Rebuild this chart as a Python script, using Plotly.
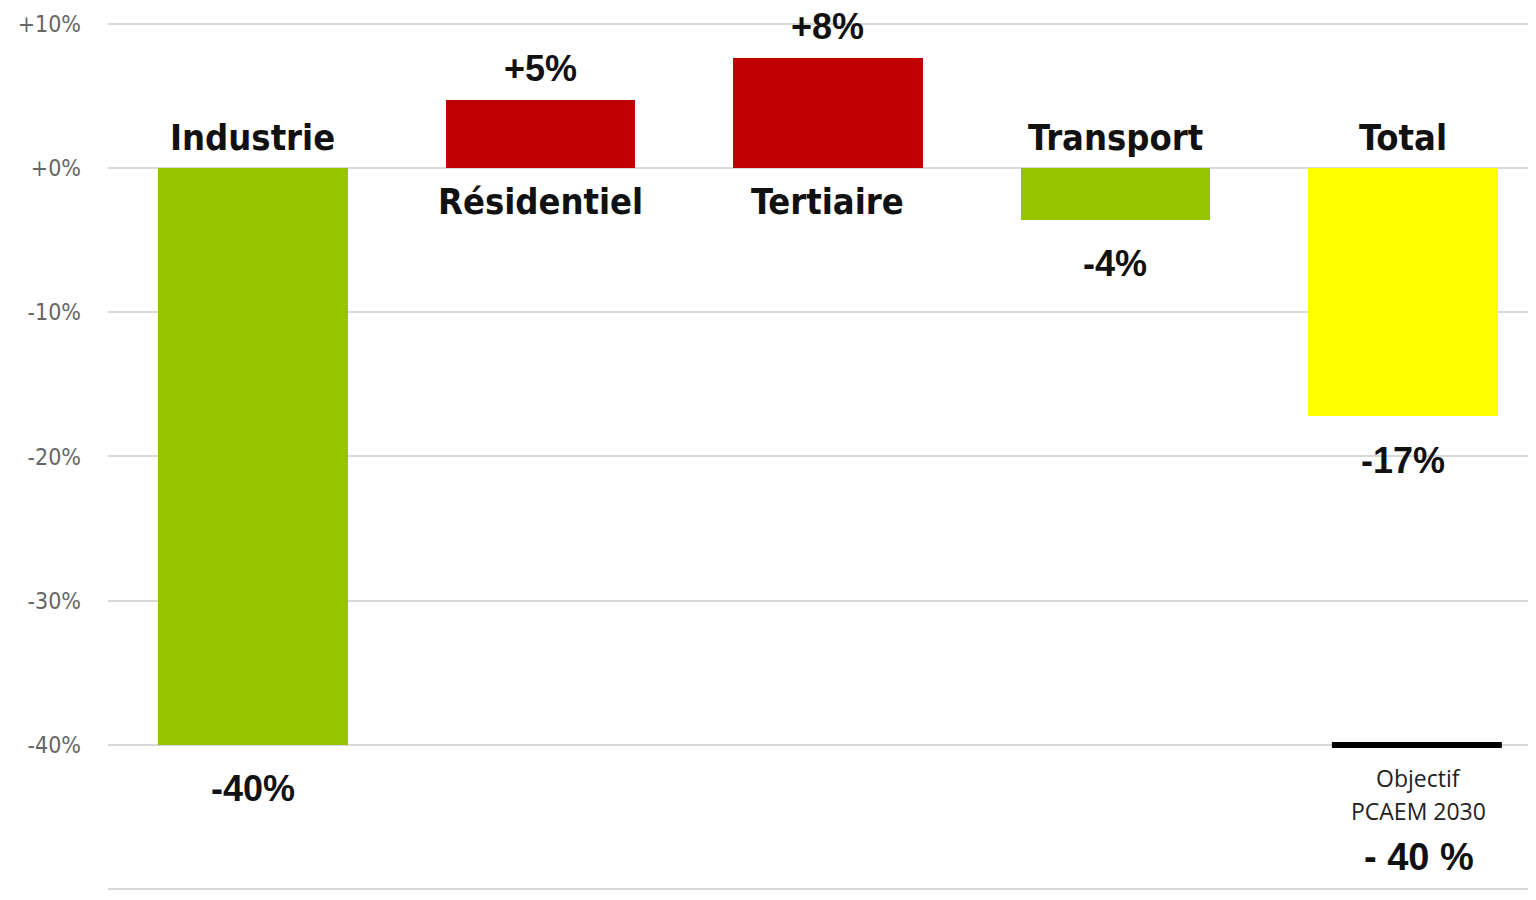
import plotly.graph_objects as go

categories = ["Industrie", "Résidentiel", "Tertiaire", "Transport", "Total"]
values = [-40, 4.7, 7.6, -3.6, -17.2]
value_labels = ["-40%", "+5%", "+8%", "-4%", "-17%"]
colors = ["#96C400", "#C00000", "#C00000", "#96C400", "#FFFF00"]
tick_vals = [10, 0, -10, -20, -30, -40, -50]
tick_text = ["+10%", "+0%", "-10%", "-20%", "-30%", "-40%", "-50%"]
objectif_value = -40
objectif_line1 = "Objectif"
objectif_line2 = "PCAEM 2030"
objectif_value_label = "- 40 %"

xs = list(range(len(categories)))

fig = go.Figure()
fig.add_trace(go.Bar(
    x=xs, y=values, marker=dict(color=colors, line=dict(width=0)),
    width=0.66, showlegend=False, hoverinfo="skip",
))

# Objective line on Total
fig.add_trace(go.Scatter(
    x=[xs[-1] - 0.247, xs[-1] + 0.344], y=[objectif_value, objectif_value],
    mode="lines", line=dict(color="black", width=6), showlegend=False, hoverinfo="skip",
))

cat_font = dict(family="DejaVu Sans Condensed", size=36, color="#111111")
val_font = dict(family="Liberation Sans", size=36, color="#111111")

for x, v, c, lab in zip(xs, values, categories, value_labels):
    if v < 0:
        fig.add_annotation(x=x, y=0, text="<b>%s</b>" % c, showarrow=False,
                           yanchor="middle", yshift=31, font=cat_font)
        fig.add_annotation(x=x, y=v, text="<b>%s</b>" % lab, showarrow=False,
                           yanchor="middle", yshift=-44, font=val_font)
    else:
        fig.add_annotation(x=x, y=0, text="<b>%s</b>" % c, showarrow=False,
                           yanchor="middle", yshift=-33, font=cat_font)
        fig.add_annotation(x=x, y=v, text="<b>%s</b>" % lab, showarrow=False,
                           yanchor="middle", yshift=32, font=val_font, borderpad=0)

obj_x = xs[-1] + 0.055
fig.add_annotation(x=obj_x, y=objectif_value, text=objectif_line1, showarrow=False,
                   yanchor="middle", yshift=-33, font=dict(family="Open Sans", size=23, color="#222222"))
fig.add_annotation(x=obj_x, y=objectif_value, text=objectif_line2, showarrow=False,
                   yanchor="middle", yshift=-66, font=dict(family="Open Sans", size=23, color="#222222"))
fig.add_annotation(x=obj_x, y=objectif_value, text="<b>%s</b>" % objectif_value_label,
                   showarrow=False, yanchor="middle", yshift=-112,
                   font=dict(family="Liberation Sans", size=38, color="#111111"))

fig.update_layout(
    width=1520, height=884,
    margin=dict(l=100, r=0, t=0, b=0),
    paper_bgcolor="white", plot_bgcolor="white",
    xaxis=dict(range=[-0.504, 4.435], showticklabels=False, showgrid=False,
               zeroline=False, showline=False),
    yaxis=dict(range=[-50.2, 11.1], tickvals=tick_vals, ticktext=tick_text,
               showgrid=True, gridcolor="#D9D9D9", gridwidth=2,
               zeroline=True, zerolinecolor="#D9D9D9", zerolinewidth=2,
               showline=False, ticks="", ticklabelstandoff=26,
               tickfont=dict(family="DejaVu Sans Condensed", size=23, color="#666666")),
    bargap=0,
)

fig.write_html("out.html")
